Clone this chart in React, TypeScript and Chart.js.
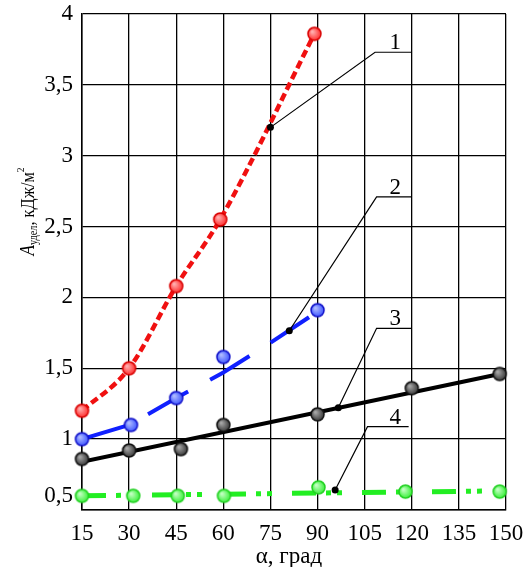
import { useEffect, useRef } from "react";
import { Chart, registerables } from "chart.js";

Chart.register(...registerables);

// ---- data ----
const xTickValues = [15, 30, 45, 60, 75, 90, 105, 120, 135, 150];
const yTickValues = [0.5, 1, 1.5, 2, 2.5, 3, 3.5, 4];

// Curve 1 (red)
const s1X = [15, 30, 45, 59, 89];
const s1Y = [1.2, 1.5, 2.08, 2.55, 3.86];

// Curve 2 (blue) markers and its fitted line
const s2X = [15, 30.6, 45, 60, 90];
const s2Y = [1.0, 1.1, 1.29, 1.58, 1.91];
const s2LineX = [15, 30, 45, 60, 75, 90];
const s2LineY = [1.0, 1.1, 1.29, 1.47, 1.68, 1.9];

// Curve 3 (black) markers and its fitted line
const s3X = [15, 30, 46.5, 60, 90, 120, 148];
const s3Y = [0.86, 0.92, 0.93, 1.1, 1.175, 1.36, 1.46];
const s3LineX = [15, 148];
const s3LineY = [0.84, 1.46];

// Curve 4 (green) markers and its fitted line
const s4X = [15, 31.3, 45.5, 60.2, 90.3, 118, 148];
const s4Y = [0.6, 0.6, 0.6, 0.6, 0.66, 0.63, 0.63];
const s4LineX = [15, 148];
const s4LineY = [0.6, 0.635];

// Leader annotations (data coordinates)
const leaderLabels = ["1", "2", "3", "4"];
const leaderTargetX = [75, 81, 96.6, 95.6];
const leaderTargetY = [3.2, 1.765, 1.222, 0.641];
const leaderElbowX = [108.3, 108.8, 108.8, 105.9];
const leaderElbowY = [3.73, 2.71, 1.782, 1.088];
const leaderEndX = [120, 120, 120, 119];
const leaderTextX = 114.7;

const FONT = "'Liberation Serif', 'DejaVu Serif', 'Times New Roman', serif";

const zip = (xs: number[], ys: number[]) => xs.map((x, i) => ({ x, y: ys[i] }));

function makeMarker(fill: string, light: string, border: string, r: number) {
  const size = Math.ceil((r + 2) * 2);
  const c = document.createElement("canvas");
  c.width = size;
  c.height = size;
  const ctx = c.getContext("2d")!;
  const cx = size / 2;
  const g = ctx.createRadialGradient(cx - r * 0.35, cx - r * 0.35, r * 0.1, cx, cx, r);
  g.addColorStop(0, light);
  g.addColorStop(1, fill);
  ctx.beginPath();
  ctx.arc(cx, cx, r, 0, Math.PI * 2);
  ctx.fillStyle = g;
  ctx.fill();
  ctx.lineWidth = 1.5;
  ctx.strokeStyle = border;
  ctx.stroke();
  return c;
}

const zeroPad = (scale: any) => {
  scale.paddingLeft = 0;
  scale.paddingRight = 0;
  scale.paddingTop = 0;
  scale.paddingBottom = 0;
};

const annotationPlugin = {
  id: "leaders",
  afterDatasetsDraw(chart: any) {
    const { ctx } = chart;
    const xs = chart.scales.x;
    const ys = chart.scales.y;
    ctx.save();
    for (let i = 0; i < leaderLabels.length; i++) {
      const tx = xs.getPixelForValue(leaderTargetX[i]);
      const ty = ys.getPixelForValue(leaderTargetY[i]);
      const ex = xs.getPixelForValue(leaderElbowX[i]);
      const ey = ys.getPixelForValue(leaderElbowY[i]);
      const fx = xs.getPixelForValue(leaderEndX[i]);
      ctx.beginPath();
      ctx.moveTo(tx, ty);
      ctx.lineTo(ex, ey);
      ctx.lineTo(fx, ey);
      ctx.strokeStyle = "#000";
      ctx.lineWidth = 1.2;
      ctx.stroke();
      ctx.beginPath();
      ctx.arc(tx, ty, 3.5, 0, Math.PI * 2);
      ctx.fillStyle = "#000";
      ctx.fill();
      ctx.font = `23px ${FONT}`;
      ctx.textAlign = "center";
      ctx.textBaseline = "alphabetic";
      ctx.fillText(leaderLabels[i], xs.getPixelForValue(leaderTextX), ey - 3);
    }
    ctx.restore();
  },
  afterDraw(chart: any) {
    const { ctx } = chart;
    ctx.save();
    ctx.fillStyle = "#000";
    // x-axis title
    ctx.font = `23px ${FONT}`;
    ctx.textAlign = "center";
    ctx.textBaseline = "alphabetic";
    ctx.fillText("α, град", 289, 563);

    // y-axis title with subscript and superscript
    const mainFont = `19px ${FONT}`;
    const italicFont = `italic 20px ${FONT}`;
    const smallFont = `12px ${FONT}`;
    const supFont = `11px ${FONT}`;
    const parts = [
      { t: "A", f: italicFont, dy: 0 },
      { t: "удел", f: smallFont, dy: 3 },
      { t: ", кДж/м", f: mainFont, dy: 0 },
      { t: "2", f: supFont, dy: -10 },
    ];
    let total = 0;
    for (const p of parts) {
      ctx.font = p.f;
      total += ctx.measureText(p.t).width;
    }
    const targetLen = 88;
    const sx = Math.min(1, targetLen / total);
    ctx.translate(34, 211.5);
    ctx.rotate(-Math.PI / 2);
    ctx.scale(sx, 1);
    let x = -total / 2;
    ctx.textAlign = "left";
    for (const p of parts) {
      ctx.font = p.f;
      ctx.fillText(p.t, x, p.dy);
      x += ctx.measureText(p.t).width;
    }
    ctx.restore();
  },
};

export default function App() {
  const ref = useRef<HTMLCanvasElement | null>(null);

  useEffect(() => {
    if (!ref.current) return;
    const mRed = makeMarker("#ff3030", "#ffb0b0", "#d80000", 6.5);
    const mBlue = makeMarker("#4058ff", "#b0bcff", "#1010c8", 6.5);
    const mGrey = makeMarker("#3a3a3a", "#a8a8a8", "#111111", 6.5);
    const mGreen = makeMarker("#3cf03c", "#c4ffc4", "#22d022", 6.5);

    const markerDefaults = { showLine: false, pointRadius: 7, order: 0, clip: false as any };

    const chart = new Chart(ref.current, {
      type: "line",
      data: {
        datasets: [
          {
            data: zip(s1X, s1Y),
            borderColor: "#f01010",
            borderWidth: 4.5,
            borderDash: [8, 4],
            cubicInterpolationMode: "monotone",
            pointRadius: 0,
            fill: false,
            order: 2,
          },
          {
            data: zip(s2LineX, s2LineY),
            borderColor: "#1020ff",
            borderWidth: 4,
            borderDash: [46, 25],
            tension: 0,
            pointRadius: 0,
            fill: false,
            order: 2,
          },
          {
            data: zip(s3LineX, s3LineY),
            borderColor: "#000000",
            borderWidth: 4,
            pointRadius: 0,
            fill: false,
            order: 2,
          },
          {
            data: zip(s4LineX, s4LineY),
            borderColor: "#22ee22",
            borderWidth: 5,
            borderDash: [24, 10, 5, 6, 5, 20],
            pointRadius: 0,
            fill: false,
            order: 2,
          },
          { data: zip(s1X, s1Y), pointStyle: mRed as any, ...markerDefaults },
          { data: zip(s2X, s2Y), pointStyle: mBlue as any, ...markerDefaults },
          { data: zip(s3X, s3Y), pointStyle: mGrey as any, ...markerDefaults },
          { data: zip(s4X, s4Y), pointStyle: mGreen as any, ...markerDefaults },
        ],
      },
      options: {
        animation: false,
        responsive: false,
        events: [],
        layout: { padding: { left: 0, top: 14, right: 24, bottom: 0 } },
        plugins: {
          legend: { display: false },
          tooltip: { enabled: false },
        },
        scales: {
          x: {
            type: "linear",
            min: 15,
            max: 150,
            afterBuildTicks: (scale: any) => {
              scale.ticks = xTickValues.map((v) => ({ value: v }));
            },
            afterFit: (scale: any) => {
              scale.height = 57;
              zeroPad(scale);
            },
            ticks: {
              color: "#000",
              padding: 10,
              font: { family: FONT, size: 23 },
              maxRotation: 0,
              autoSkip: false,
              callback: (v: any) => String(v),
            },
            grid: { color: "#000", lineWidth: 1.3, drawTicks: false },
            border: { color: "#000", width: 1.5 },
          },
          y: {
            type: "linear",
            min: 0.5,
            max: 4,
            afterBuildTicks: (scale: any) => {
              scale.ticks = yTickValues.map((v) => ({ value: v }));
            },
            afterFit: (scale: any) => {
              scale.width = 82;
              zeroPad(scale);
            },
            ticks: {
              color: "#000",
              padding: 9,
              font: { family: FONT, size: 23 },
              autoSkip: false,
              callback: (v: any) => {
                const s = String(v).replace(".", ",");
                return v === 0.5 ? [s, ""] : s;
              },
            },
            grid: { color: "#000", lineWidth: 1.3, drawTicks: false },
            border: { color: "#000", width: 1.5 },
          },
        },
      },
      plugins: [annotationPlugin],
    });
    return () => chart.destroy();
  }, []);

  return (
    <div style={{ position: "fixed", left: 0, top: 0, width: 530, height: 567, background: "#fff" }}>
      <canvas ref={ref} width={530} height={567} style={{ display: "block" }} />
    </div>
  );
}
